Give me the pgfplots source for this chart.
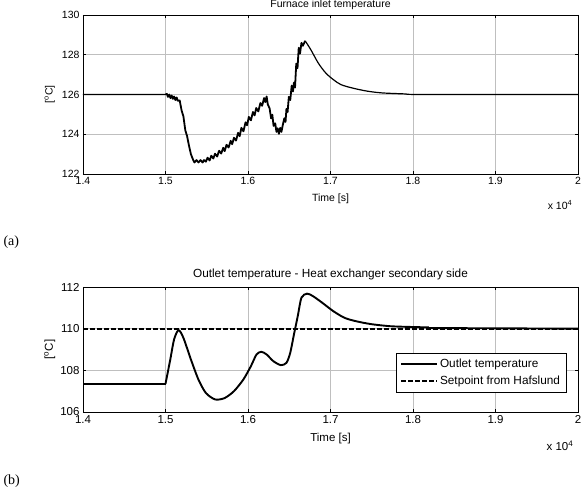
\documentclass[border=0pt]{standalone}
\usepackage{fontspec}
\setmainfont{Liberation Sans}
\newfontfamily\timesfont{Liberation Serif}
\usepackage{pgfplots}
\pgfplotsset{compat=1.18}
\begin{document}
\begin{tikzpicture}[x=1pt,y=1pt]
\useasboundingbox (0,0) rectangle (587,492);
\pgfplotsset{
  mstyle/.style={
    scale only axis, width=495pt,
    xmin=14000, xmax=20000, clip=false,
    scaled x ticks=false,
    xtick={14000,15000,...,20000},
    xticklabels={1.4,1.5,1.6,1.7,1.8,1.9,2},
    grid=major, major grid style={black!25, line width=0.6pt},
    axis line style={line width=0.8pt},
    tick align=inside, major tick length=3pt,
    tick style={black, line width=0.6pt},
    /pgf/number format/assume math mode=true,
    every axis y label/.style={at={(axis description cs:-0.067,0.5)}, rotate=90, anchor=center},
    every axis x label/.style={at={(axis description cs:0.5,0)}, anchor=center},
    legend cell align=left,
    legend image code/.code={\draw[##1] (0pt,0pt) -- (36pt,0pt);},
  }
}
% ---------- (a) ----------
\begin{axis}[mstyle, at={(83pt,318pt)}, anchor=south west, height=159pt,
  ymin=122, ymax=130, ytick={122,124,...,130},
  ticklabel style={font=\fontsize{10.5}{12}\selectfont},
  label style={font=\fontsize{10.5}{12}\selectfont},
  xlabel={Time [s]}, ylabel={[\textsuperscript{o}C]},
  x label style={yshift=-25pt},
]
\addplot[black, line width=1.2pt] coordinates {
(14000,126) (15000,126) (15013,126.06)};
\addplot[black, line width=1.8pt, line join=round] coordinates {
(15013,126.06) (15030,125.88) (15045,126.0) (15060,125.82) (15075,125.95) (15090,125.78)
(15104,125.9) (15120,125.72) (15135,125.85) (15150,125.68) (15172,125.7)
(15195,125.2) (15217,124.9) (15240,124.2) (15262,123.9) (15285,123.42) (15308,123.0) (15331,122.75)
(15350,122.58) (15376,122.7) (15400,122.58) (15425,122.7) (15450,122.58) (15467,122.7)
(15490,122.62) (15510,122.82) (15535,122.68) (15555,122.92) (15580,122.78) (15600,123.02)
(15626,122.88) (15650,123.17) (15675,123.03) (15700,123.32) (15717,123.15) (15740,123.47)
(15765,123.33) (15790,123.67) (15808,123.5) (15830,123.82) (15855,123.68) (15880,124.07)
(15899,123.9) (15920,124.32) (15945,124.15) (15970,124.6) (15989,124.45) (16010,124.87)
(16035,124.7) (16060,125.12) (16080,124.95) (16100,125.32) (16125,125.15) (16150,125.57)
(16171,125.43) (16195,125.82) (16210,125.62) (16226,125.9) (16240,125.5)
(16262,125.3) (16280,124.8) (16295,124.98) (16310,124.42) (16330,124.55) (16345,124.12)
(16360,124.3) (16375,124.02) (16390,124.32) (16405,124.12) (16421,124.45)
(16440,124.8) (16455,124.62) (16466,125.28) (16480,125.12) (16495,125.88) (16512,125.72)
(16530,126.45) (16545,126.15) (16557,126.6) (16570,126.35) (16585,127.55) (16600,127.32)
(16615,128.35) (16630,128.05) (16648,128.6) (16665,128.45) (16693,128.7)};
\addplot[black, line width=1.2pt, smooth] coordinates {
(16693,128.7) (16762,128.25) (16852,127.58) (16943,127.08) (17034,126.75)
(17125,126.5) (17261,126.33) (17443,126.17) (17625,126.08) (17897,126.03)
(18124,126.0) (20000,126)};
\node[font=\fontsize{10.5}{12}\selectfont] at (axis description cs:0.5,1) [yshift=10pt] {Furnace inlet temperature};
\node[font=\fontsize{10.5}{12}\selectfont] at (axis description cs:1,0) [xshift=-18pt, yshift=-31pt] {x 10\textsuperscript{4}};
\end{axis}
% ---------- (b) ----------
\begin{axis}[mstyle, at={(83pt,80pt)}, anchor=south west, height=125pt,
  ymin=106, ymax=112, ytick={106,108,...,112},
  ticklabel style={font=\fontsize{11.5}{13}\selectfont},
  label style={font=\fontsize{11.5}{13}\selectfont},
  xlabel={Time [s]}, ylabel={[\textsuperscript{o}C]},
  x label style={yshift=-27pt},
  legend style={at={(axis description cs:0.632,0.472)}, anchor=north west,
    font=\fontsize{11.8}{13}\selectfont, draw=black, line width=0.6pt,
    inner xsep=4pt, inner ysep=4pt, row sep=3pt},
]
\addplot[black, line width=1.9pt, forget plot] coordinates {
(14000,107.35) (15000,107.35)};
\addplot[black, line width=1.9pt, smooth, tension=0.45] coordinates {
(15000,107.35) (15058,108.52) (15104,109.48) (15158,109.93)
(15217,109.56) (15308,108.52) (15399,107.56) (15490,106.91) (15603,106.6)
(15717,106.67) (15830,107.0) (15944,107.56) (16035,108.2) (16103,108.76)
(16162,108.89) (16226,108.76) (16307,108.44) (16398,108.25) (16466,108.36)
(16512,108.84) (16557,109.72) (16603,110.6) (16648,111.49) (16715,111.68)
(16784,111.57) (16898,111.25) (17034,110.84) (17170,110.52) (17307,110.36)
(17488,110.22) (17715,110.12) (17897,110.09) (18192,110.06)};
\addlegendentry{Outlet temperature}
\addplot[black, line width=1.9pt, dash pattern=on 4.5pt off 2.5pt] coordinates {
(14000,110) (20000,110)};
\addlegendentry{Setpoint from Hafslund}
\addplot[black, line width=1.9pt, forget plot] coordinates {
(18192,110.03) (20000,110.0)};
\node[font=\fontsize{11.8}{13}\selectfont] at (axis description cs:0.5,1) [yshift=13pt] {Outlet temperature - Heat exchanger secondary side};
\node[font=\fontsize{11.5}{13}\selectfont] at (axis description cs:1,0) [xshift=-18pt, yshift=-34pt] {x 10\textsuperscript{4}};
\end{axis}
\node[font=\timesfont\fontsize{14}{16}\selectfont, anchor=west] at (0,250) {(a)};
\node[font=\timesfont\fontsize{14}{16}\selectfont, anchor=west] at (0,11) {(b)};
\end{tikzpicture}
\end{document}
